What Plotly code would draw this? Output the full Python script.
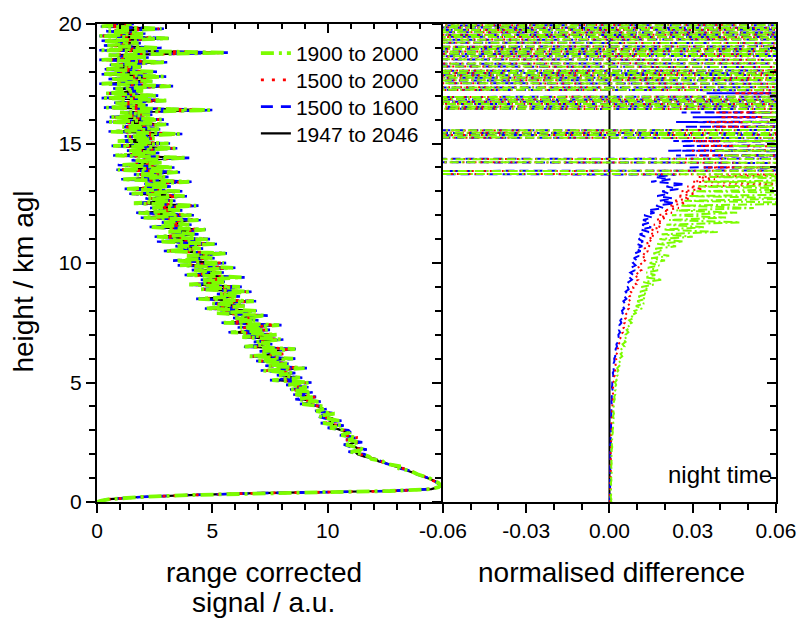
import plotly.graph_objects as go

# ---------------- data ----------------
H_LOW = [0.0, 0.06, 0.12, 0.21, 0.29, 0.37, 0.41, 0.46, 0.54, 0.62, 0.69, 0.8,
         0.9, 1.0, 1.16, 1.3, 1.4, 1.5, 1.6, 1.7, 1.8, 1.9]
H_GRID = [round(2.0 + 0.1 * i, 1) for i in range(181)]
heights_km = H_LOW + H_GRID

series_names = ["1900 to 2000", "1500 to 2000", "1500 to 1600", "1947 to 2046"]

# range corrected signal (a.u.)
sig_1900_2000 = [0.0, 0.2, 0.57, 1.9, 4.0, 7.0, 9.8, 12.7, 14.5, 14.8, 14.9, 14.8, 14.6, 14.4, 13.9, 13.6, 13.1, 13.1, 12.5, 12.4, 11.9, 11.8,
    11.5, 11.0, 11.6, 11.1, 10.8, 11.4, 10.9, 11.2, 10.6, 10.9,
    10.8, 10.1, 10.6, 9.8, 10.5, 10.0, 9.6, 10.3, 9.5, 9.9,
    9.8, 8.9, 9.6, 8.7, 9.4, 8.6, 9.3, 8.4, 9.1, 8.3,
    9.2, 7.6, 8.8, 7.9, 8.5, 7.2, 9.0, 7.4, 8.3, 7.0,
    8.5, 6.6, 8.0, 7.1, 8.6, 6.4, 7.5, 6.9, 8.0, 6.3,
    7.8, 5.8, 7.4, 6.2, 7.9, 5.5, 6.9, 6.0, 7.3, 5.2,
    6.9, 4.7, 6.4, 5.0, 6.8, 4.4, 6.1, 5.3, 6.6, 4.5,
    6.2, 4.0, 5.6, 4.6, 6.3, 3.9, 5.4, 4.2, 5.9, 3.6,
    5.5, 3.4, 5.0, 3.9, 5.6, 3.0, 4.5, 3.5, 5.1, 2.7,
    4.8, 2.6, 4.3, 3.1, 4.7, 2.3, 4.0, 2.9, 4.4, 2.0,
    4.1, 1.8, 3.6, 2.4, 4.3, 1.6, 3.3, 2.2, 3.8, 1.5,
    3.6, 1.3, 3.1, 2.0, 4.0, 1.1, 3.0, 1.7, 3.5, 0.9,
    3.3, 1.0, 2.8, 1.6, 3.9, 0.8, 2.6, 1.4, 3.4, 0.7,
    3.1, 0.9, 2.5, 1.3, 3.6, 0.6, 2.7, 1.1, 3.0, 0.5,
    2.8, 0.6, 2.3, 1.0, 4.9, 0.4, 2.1, 0.8, 3.0, 0.3,
    2.6, 0.4, 2.0, 0.8, 3.2, 0.2, 2.4, 0.6, 2.9, 0.3,
    2.5, 0.3, 1.9, 0.6, 3.0, 0.2, 2.2, 0.5, 5.6, 0.2,
    2.7, 0.4, 1.8, 0.3, 3.1, 0.1, 2.0, 0.5, 2.8, 0.2,
    1.5]

sig_1500_2000 = [0.0, 0.2, 0.58, 1.95, 4.05, 7.05, 9.85, 12.75, 14.5, 14.8, 14.9, 14.8, 14.55, 14.35, 13.95, 13.55, 13.2, 13.0, 12.6, 12.3, 12.0, 11.7,
    11.4, 11.1, 11.5, 11.0, 10.9, 11.3, 10.8, 11.3, 10.7, 10.8,
    10.7, 10.2, 10.5, 9.9, 10.4, 10.1, 9.7, 10.2, 9.6, 9.8,
    9.7, 9.0, 9.5, 8.8, 9.5, 8.5, 9.2, 8.5, 9.0, 8.4,
    9.1, 7.7, 8.7, 8.0, 8.4, 7.3, 8.9, 7.5, 8.2, 7.1,
    8.4, 6.7, 8.1, 7.0, 8.5, 6.5, 7.4, 7.0, 7.9, 6.4,
    7.7, 5.9, 7.3, 6.3, 7.8, 5.6, 6.8, 6.1, 7.2, 5.3,
    6.8, 4.8, 6.3, 5.1, 6.7, 4.5, 6.0, 5.4, 6.5, 4.6,
    6.1, 4.1, 5.5, 4.7, 6.2, 4.0, 5.3, 4.3, 5.8, 3.7,
    5.4, 3.5, 4.9, 4.0, 5.5, 3.1, 4.4, 3.6, 5.0, 2.8,
    4.7, 2.7, 4.2, 3.2, 4.6, 2.4, 3.9, 3.0, 4.3, 2.1,
    4.0, 1.9, 3.5, 2.5, 4.2, 1.7, 3.2, 2.3, 3.7, 1.6,
    3.5, 1.4, 3.0, 2.1, 3.9, 1.2, 2.9, 1.8, 3.4, 1.0,
    3.2, 1.1, 2.7, 1.7, 3.8, 0.9, 2.5, 1.5, 3.3, 0.8,
    3.0, 1.0, 2.4, 1.4, 3.5, 0.7, 2.6, 1.2, 2.9, 0.6,
    2.7, 0.7, 2.2, 1.1, 4.8, 0.5, 2.0, 0.9, 2.9, 0.4,
    2.5, 0.5, 1.9, 0.9, 3.1, 0.3, 2.3, 0.7, 2.8, 0.4,
    2.4, 0.4, 1.8, 0.7, 2.9, 0.3, 2.1, 0.6, 5.5, 0.3,
    2.6, 0.5, 1.7, 0.4, 3.0, 0.2, 1.9, 0.6, 2.7, 0.3,
    1.4]

sig_1500_1600 = [0.0, 0.21, 0.56, 1.88, 3.95, 6.95, 9.75, 12.65, 14.45, 14.8, 14.9, 14.75, 14.6, 14.4, 13.85, 13.65, 13.15, 13.05, 12.55, 12.35, 11.95, 11.75,
    11.6, 10.9, 11.7, 11.0, 10.7, 11.5, 10.8, 11.3, 10.5, 11.0,
    10.9, 10.0, 10.7, 9.7, 10.6, 9.9, 9.5, 10.4, 9.4, 10.0,
    9.9, 8.8, 9.7, 8.6, 9.5, 8.5, 9.4, 8.3, 9.2, 8.2,
    9.3, 7.5, 8.9, 7.8, 8.6, 7.1, 9.1, 7.3, 8.4, 6.9,
    8.6, 6.5, 8.1, 7.0, 8.7, 6.3, 7.6, 6.8, 8.1, 6.2,
    7.9, 5.7, 7.5, 6.1, 8.0, 5.4, 7.0, 5.9, 7.4, 5.1,
    7.0, 4.6, 6.5, 4.9, 6.9, 4.3, 6.2, 5.2, 6.7, 4.4,
    6.3, 3.9, 5.7, 4.5, 6.4, 3.8, 5.5, 4.1, 6.0, 3.5,
    5.6, 3.3, 5.1, 3.8, 5.7, 2.9, 4.6, 3.4, 5.2, 2.6,
    4.9, 2.5, 4.4, 3.0, 4.8, 2.2, 4.1, 2.8, 4.5, 1.9,
    4.2, 1.7, 3.7, 2.3, 4.4, 1.5, 3.4, 2.1, 3.9, 1.4,
    3.7, 1.2, 3.2, 1.9, 4.1, 1.0, 3.1, 1.6, 3.6, 0.8,
    3.4, 0.9, 2.9, 1.5, 4.0, 0.7, 2.7, 1.3, 3.5, 0.6,
    3.2, 0.8, 2.6, 1.2, 3.7, 0.5, 2.8, 1.0, 3.1, 0.4,
    2.9, 0.5, 2.4, 0.9, 5.0, 0.3, 2.2, 0.7, 3.1, 0.2,
    2.7, 0.3, 2.1, 0.7, 3.3, 0.1, 2.5, 0.5, 3.0, 0.2,
    2.6, 0.2, 2.0, 0.5, 3.1, 0.1, 2.3, 0.4, 5.7, 0.1,
    2.8, 0.3, 1.9, 0.2, 3.2, 0.1, 2.1, 0.4, 2.9, 0.1,
    1.6]

sig_1947_2046 = [0.0, 0.19, 0.55, 1.85, 4.0, 6.9, 9.7, 12.6, 14.5, 14.8, 14.9, 14.8, 14.6, 14.3, 13.9, 13.5, 13.3, 12.9, 12.6, 12.2, 12.1, 11.6,
    11.3, 11.2, 11.4, 11.2, 10.9, 11.2, 11.0, 11.1, 10.7, 10.9,
    10.6, 10.3, 10.4, 10.0, 10.3, 10.2, 9.7, 10.1, 9.7, 9.8,
    9.6, 9.1, 9.4, 8.9, 9.2, 8.8, 9.1, 8.6, 8.9, 8.5,
    9.0, 7.8, 8.6, 8.1, 8.3, 7.4, 8.8, 7.6, 8.1, 7.2,
    8.3, 6.8, 7.8, 7.3, 8.4, 6.6, 7.3, 7.1, 7.8, 6.5,
    7.6, 6.0, 7.2, 6.4, 7.7, 5.7, 6.7, 6.2, 7.1, 5.4,
    6.7, 4.9, 6.2, 5.2, 6.6, 4.6, 5.9, 5.5, 6.4, 4.7,
    6.0, 4.2, 5.4, 4.8, 6.1, 4.1, 5.2, 4.4, 5.7, 3.8,
    5.3, 3.6, 4.8, 4.1, 5.4, 3.2, 4.3, 3.7, 4.9, 2.9,
    4.6, 2.8, 4.1, 3.3, 4.5, 2.5, 3.8, 3.1, 4.2, 2.2,
    3.9, 2.0, 3.4, 2.6, 4.1, 1.8, 3.1, 2.4, 3.6, 1.7,
    3.4, 1.5, 2.9, 2.2, 3.8, 1.3, 2.8, 1.9, 3.3, 1.1,
    3.1, 1.2, 2.6, 1.8, 3.7, 1.0, 2.4, 1.6, 3.2, 0.9,
    2.9, 1.1, 2.3, 1.5, 3.4, 0.8, 2.5, 1.3, 2.8, 0.7,
    2.6, 0.8, 2.1, 1.2, 4.7, 0.6, 1.9, 1.0, 2.8, 0.5,
    2.4, 0.6, 1.8, 1.0, 3.0, 0.4, 2.2, 0.8, 2.7, 0.5,
    2.3, 0.5, 1.7, 0.8, 2.8, 0.4, 2.0, 0.7, 5.4, 0.4,
    2.5, 0.6, 1.6, 0.5, 2.9, 0.3, 1.8, 0.7, 2.6, 0.4,
    1.3]

# normalised difference (relative to 1947 to 2046)
diff_1900_2000 = [0.0008, 0.0005, 0.0007, 0.0004, 0.0006, 0.0005, 0.0007, 0.0006, 0.0005, 0.0007, 0.0006, 0.0005, 0.0007, 0.0006, 0.0008, 0.0006, 0.0007, 0.0006, 0.0008, 0.0007, 0.0009, 0.0007,
    0.0007, 0.0009, 0.0008, 0.0010, 0.0008, 0.0011, 0.0009, 0.0012, 0.0010, 0.0012,
    0.0011, 0.0013, 0.0012, 0.0014, 0.0012, 0.0015, 0.0013, 0.0016, 0.0014, 0.0017,
    0.0015, 0.0018, 0.0016, 0.0019, 0.0017, 0.0021, 0.0018, 0.0022, 0.0019, 0.0024,
    0.0020, 0.0026, 0.0022, 0.0029, 0.0025, 0.0032, 0.0028, 0.0036, 0.0031, 0.0040,
    0.0036, 0.0046, 0.0040, 0.0050, 0.0043, 0.0054, 0.0047, 0.0058, 0.0050, 0.0063,
    0.0058, 0.0068, 0.0062, 0.0074, 0.0066, 0.0080, 0.0071, 0.0088, 0.0077, 0.0095,
    0.0090, 0.0118, 0.0095, 0.0125, 0.0100, 0.0130, 0.0104, 0.0135, 0.0110, 0.0142,
    0.0115, 0.0160, 0.0122, 0.0190, 0.0128, 0.0165, 0.0133, 0.0175, 0.0138, 0.0180,
    0.0145, 0.0200, 0.0150, 0.0215, 0.0158, 0.0190, 0.0165, 0.0240, 0.0172, 0.0265,
    0.0180, 0.0300, 0.0188, 0.0390, 0.0195, 0.0340, 0.0205, 0.0470, 0.0215, 0.0420,
    0.0225, 0.0460, 0.0240, 0.0520, 0.0255, 0.0800, 0.0270, 0.0700, 0.0285, 0.0900,
    0.0300, 0.0750, 0.0320, 0.1000, 0.0340, 0.0850, 0.0360, 0.1200,
    -0.5, 0.4,
    0.045, 0.35, 0.042, -0.45, 0.5, 0.041, 0.3, 0.038, 0.25, 0.044,
    0.35, 0.04, 0.4, -0.55, 0.5, -0.6, 0.45, 0.05, 0.3, 0.048,
    0.35, 0.055, 0.4, 0.052, 0.45, -0.5, 0.4, -0.45, 0.4, -0.55,
    0.5, 0.058, 0.4, -0.5, 0.55, 0.07, -0.45, 0.5, -0.55, 0.45,
    -0.5, 0.55, 0.065, -0.45, 0.5, 0.07, -0.55, 0.45, -0.5, 0.45,
    -0.55, 0.4, 0.07, -0.5, 0.55, -0.45, 0.5, -0.55, 0.45, -0.5,
    0.55]

diff_1500_2000 = [0.0002, 0.0003, 0.0002, 0.0003, 0.0002, 0.0003, 0.0003, 0.0004, 0.0003, 0.0004, 0.0003, 0.0004, 0.0003, 0.0004, 0.0004, 0.0005, 0.0004, 0.0005, 0.0004, 0.0005, 0.0004, 0.0005,
    0.0004, 0.0005, 0.0004, 0.0006, 0.0005, 0.0006, 0.0005, 0.0007, 0.0006, 0.0007,
    0.0006, 0.0008, 0.0007, 0.0008, 0.0007, 0.0009, 0.0008, 0.0010, 0.0009, 0.0010,
    0.0009, 0.0011, 0.0010, 0.0012, 0.0011, 0.0013, 0.0012, 0.0014, 0.0013, 0.0015,
    0.0014, 0.0017, 0.0015, 0.0019, 0.0017, 0.0021, 0.0019, 0.0023, 0.0021, 0.0025,
    0.0024, 0.0029, 0.0026, 0.0032, 0.0029, 0.0035, 0.0032, 0.0039, 0.0036, 0.0042,
    0.0041, 0.0048, 0.0044, 0.0052, 0.0047, 0.0055, 0.0050, 0.0059, 0.0054, 0.0063,
    0.0061, 0.0070, 0.0064, 0.0074, 0.0068, 0.0079, 0.0072, 0.0084, 0.0077, 0.0088,
    0.0085, 0.0097, 0.0089, 0.0103, 0.0093, 0.0108, 0.0097, 0.0114, 0.0101, 0.0118,
    0.0112, 0.0127, 0.0116, 0.0133, 0.0121, 0.0139, 0.0125, 0.0145, 0.0130, 0.0152,
    0.0138, 0.0162, 0.0145, 0.0175, 0.0152, 0.0185, 0.0160, 0.0192, 0.0168, 0.0205,
    0.0178, 0.0225, 0.0195, 0.0250, 0.0215, 0.0275, 0.0230, 0.0290, 0.0245, 0.0310,
    0.0260, 0.0335, 0.0280, 0.0650, 0.0300, 0.0380, 0.0320, 0.0700,
    -0.4, 0.35,
    0.034, 0.3, 0.030, -0.5, 0.4, 0.031, 0.25, 0.029, 0.2, 0.033,
    0.3, 0.030, 0.35, -0.6, 0.45, -0.5, 0.55, 0.037, 0.25, 0.035,
    0.3, 0.04, 0.35, 0.038, 0.4, -0.45, 0.5, -0.4, 0.35, -0.5,
    0.45, 0.045, 0.35, -0.6, 0.5, 0.052, -0.5, 0.45, -0.5, 0.5,
    -0.6, 0.5, 0.05, -0.5, 0.45, 0.055, -0.4, 0.5, -0.5, 0.4,
    -0.5, 0.35, 0.055, -0.6, 0.5, -0.5, 0.45, -0.5, 0.5, -0.6,
    0.5]

diff_1500_1600 = [0.0001, 0.0002, 0.0001, 0.0002, 0.0002, 0.0001, 0.0002, 0.0003, 0.0002, 0.0002, 0.0003, 0.0002, 0.0003, 0.0002, 0.0003, 0.0003, 0.0002, 0.0003, 0.0004, 0.0003, 0.0004, 0.0003,
    0.0003, 0.0004, 0.0003, 0.0004, 0.0003, 0.0005, 0.0004, 0.0005, 0.0004, 0.0005,
    0.0005, 0.0006, 0.0005, 0.0006, 0.0005, 0.0007, 0.0006, 0.0007, 0.0006, 0.0007,
    0.0007, 0.0008, 0.0007, 0.0009, 0.0008, 0.0010, 0.0008, 0.0011, 0.0009, 0.0010,
    0.0010, 0.0013, 0.0011, 0.0014, 0.0012, 0.0016, 0.0014, 0.0017, 0.0015, 0.0018,
    0.0017, 0.0021, 0.0019, 0.0024, 0.0022, 0.0027, 0.0025, 0.0031, 0.0028, 0.0033,
    0.0032, 0.0038, 0.0034, 0.0041, 0.0036, 0.0043, 0.0039, 0.0046, 0.0041, 0.0048,
    0.0045, 0.0053, 0.0047, 0.0056, 0.0050, 0.0061, 0.0054, 0.0064, 0.0058, 0.0069,
    0.0066, 0.0076, 0.0068, 0.0081, 0.0072, 0.0086, 0.0075, 0.0092, 0.0078, 0.0094,
    0.0085, 0.0101, 0.0088, 0.0106, 0.0091, 0.0112, 0.0095, 0.0118, 0.0099, 0.0121,
    0.0105, 0.0128, 0.0109, 0.0142, 0.0112, 0.0150, 0.0118, 0.0146, 0.0121, 0.0155,
    0.0125, 0.0162, 0.0138, 0.0195, 0.0168, 0.0235, 0.0180, 0.0228, 0.0172, 0.0215,
    0.0190, 0.0248, 0.0205, 0.0272, 0.0150, 0.0220, 0.0165, 0.0240,
    -0.45, 0.30,
    0.028, 0.25, 0.022, -0.6, 0.35, 0.024, 0.2, 0.021, 0.18, 0.026,
    0.22, 0.023, 0.3, -0.5, 0.4, -0.7, 0.5, 0.027, 0.2, 0.024,
    0.25, 0.03, 0.3, 0.026, 0.35, -0.4, 0.45, -0.5, 0.4, -0.6,
    0.5, 0.035, 0.3, -0.5, 0.6, 0.045, -0.4, 0.5, -0.6, 0.4,
    -0.5, 0.6, 0.04, -0.4, 0.5, 0.05, -0.5, 0.4, -0.6, 0.5,
    -0.4, 0.3, 0.048, -0.5, 0.6, -0.4, 0.5, -0.6, 0.4, -0.5,
    0.6]

diff_ref_heights = [0.0, 20.0]
diff_1947_2046 = [0.0, 0.0]

x_ticks_signal = [0, 5, 10]
x_ticks_diff = [-0.06, -0.03, 0.0, 0.03, 0.06]
x_ticktext_diff = ["-0.06", "-0.03", "0.00", "0.03", "0.06"]
y_ticks = [0, 5, 10, 15, 20]

# ---------------- styles ----------------
GREEN, RED, BLUE, BLACK = "#7CFC00", "#FF0000", "#0000FF", "#000000"
FONT = "Liberation Sans, Arial, Helvetica, sans-serif"

fig = go.Figure()

# (values, name, line style, legend id)
left_styles = [
    (sig_1947_2046, series_names[3], dict(color=BLACK, width=2.2, dash="solid"), "legend4"),
    (sig_1500_1600, series_names[2], dict(color=BLUE, width=2.6, dash="12px,8px"), "legend3"),
    (sig_1500_2000, series_names[1], dict(color=RED, width=2.8, dash="3px,8px"), "legend2"),
    (sig_1900_2000, series_names[0], dict(color=GREEN, width=3.8, dash="13px,5px,3px,5px"), "legend"),
]
for vals, name, line, leg in left_styles:
    fig.add_trace(go.Scatter(x=vals, y=heights_km, mode="lines", name=name, line=line,
                             legend=leg, xaxis="x", yaxis="y", hoverinfo="skip"))

fig.add_trace(go.Scatter(x=diff_1947_2046, y=diff_ref_heights, mode="lines", showlegend=False,
                         line=dict(color=BLACK, width=2), xaxis="x2", yaxis="y2", hoverinfo="skip"))
right_styles = [
    (diff_1500_1600, dict(color=BLUE, width=2, dash="9px,5px")),
    (diff_1500_2000, dict(color=RED, width=2, dash="2px,4px")),
    (diff_1900_2000, dict(color=GREEN, width=2, dash="9px,3px,2px,3px")),
]
for vals, line in right_styles:
    fig.add_trace(go.Scatter(x=vals, y=heights_km, mode="lines", showlegend=False, line=line,
                             xaxis="x2", yaxis="y2", hoverinfo="skip"))

# empty traces so that the mirrored (top/right) axes get drawn
for xa, ya in [("x3", "y"), ("x4", "y2"), ("x2", "y4")]:
    fig.add_trace(go.Scatter(x=[], y=[], showlegend=False, xaxis=xa, yaxis=ya, hoverinfo="skip"))

ML, MR = 97, 25
PW = 808 - ML - MR
D = 0.5095

common = dict(showline=True, linewidth=2, linecolor="black", showgrid=False, zeroline=False,
              tickwidth=2, tickcolor="black", ticklen=9)


def py(px):
    return (502 - px) / 482.0


def pxr(px):
    return (px - ML) / float(PW)


def legend_box(row_center_px):
    return dict(x=0.234, y=py(row_center_px - 24), xanchor="left", yanchor="top",
                bgcolor="rgba(0,0,0,0)", font=dict(size=21), itemwidth=30)


fig.update_layout(
    width=808, height=622,
    margin=dict(l=ML, r=MR, t=20, b=120, pad=0),
    plot_bgcolor="white", paper_bgcolor="white",
    font=dict(family=FONT, size=21, color="black"),
    showlegend=True,
    legend=legend_box(53),
    legend2=legend_box(80),
    legend3=legend_box(107),
    legend4=legend_box(134),
    xaxis=dict(domain=[0, D], range=[0, 15], tickvals=x_ticks_signal, ticks="outside",
               minor=dict(dtick=1, tick0=0, ticks="outside", ticklen=6, tickwidth=1.5, tickcolor="black"),
               anchor="y", **common),
    xaxis3=dict(range=[0, 15], overlaying="x", side="top", anchor="y", tickvals=x_ticks_signal,
                ticks="inside", showticklabels=False,
                minor=dict(dtick=1, tick0=0, ticks="inside", ticklen=5, tickwidth=1.5, tickcolor="black"),
                **common),
    xaxis2=dict(domain=[D, 1], range=[-0.06, 0.06], tickvals=x_ticks_diff, ticktext=x_ticktext_diff,
                ticks="outside",
                minor=dict(dtick=0.01, tick0=0, ticks="outside", ticklen=6, tickwidth=1.5, tickcolor="black"),
                anchor="y2", **common),
    xaxis4=dict(range=[-0.06, 0.06], overlaying="x2", side="top", anchor="y2", tickvals=x_ticks_diff,
                ticks="inside", showticklabels=False,
                minor=dict(dtick=0.01, tick0=0, ticks="inside", ticklen=5, tickwidth=1.5, tickcolor="black"),
                **common),
    yaxis=dict(domain=[0, 1], range=[0, 20], tickvals=y_ticks, ticks="outside", anchor="x",
               minor=dict(dtick=1, tick0=0, ticks="outside", ticklen=6, tickwidth=1.5, tickcolor="black"),
               **common),
    yaxis2=dict(domain=[0, 1], range=[0, 20], tickvals=y_ticks, ticks="outside", anchor="x2",
                showticklabels=False,
                minor=dict(dtick=1, tick0=0, ticks="outside", ticklen=6, tickwidth=1.5, tickcolor="black"),
                **common),
    yaxis4=dict(range=[0, 20], overlaying="y2", side="right", anchor="x2", tickvals=y_ticks,
                ticks="inside", showticklabels=False,
                minor=dict(dtick=1, tick0=0, ticks="inside", ticklen=6, tickwidth=1.5, tickcolor="black"),
                **common),
)

fig.add_annotation(text="range corrected", x=pxr(266), y=py(573), xref="paper", yref="paper",
                   showarrow=False, font=dict(size=28), xanchor="center", yanchor="middle")
fig.add_annotation(text="signal / a.u.", x=pxr(265), y=py(603), xref="paper", yref="paper",
                   showarrow=False, font=dict(size=28), xanchor="center", yanchor="middle")
fig.add_annotation(text="normalised difference", x=pxr(617), y=py(573), xref="paper", yref="paper",
                   showarrow=False, font=dict(size=28), xanchor="center", yanchor="middle")
fig.add_annotation(text="height / km agl", x=pxr(23), y=py(280), xref="paper", yref="paper",
                   showarrow=False, font=dict(size=28), textangle=-90, xanchor="center", yanchor="middle")
fig.add_annotation(text="night time", x=pxr(781), y=py(474), xref="paper", yref="paper",
                   showarrow=False, font=dict(size=24), xanchor="right", yanchor="middle")

fig.write_html("out.html")
